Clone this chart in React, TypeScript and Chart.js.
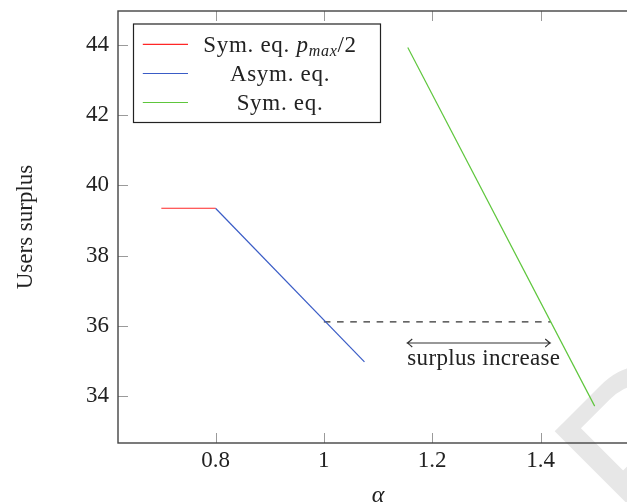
import React, { useEffect, useRef } from "react";
import { Chart, registerables } from "chart.js";

Chart.register(...registerables);

// ---- data ----
const X_TICKS = [0.8, 1, 1.2, 1.4];
const Y_TICKS = [34, 36, 38, 40, 42, 44];
const X_MIN = 0.62;
const X_MAX = 1.58;
const Y_MIN = 32.66;
const Y_MAX = 44.97;

const SYM_HALF_X = [0.7, 0.8];
const SYM_HALF_Y = [39.35, 39.35];
const ASYM_X = [0.8, 1.075];
const ASYM_Y = [39.35, 34.97];
const SYM_X = [1.155, 1.5];
const SYM_Y = [43.93, 33.71];

const DASH_X = [1.0, 1.419];
const DASH_Y = [36.11, 36.11];
const ARROW_X = [1.154, 1.418];
const ARROW_Y = 35.51;
const NOTE_TEXT = "surplus increase";
const NOTE_X = 1.154;
const NOTE_Y = 34.875;

const SERIES_LABELS = ["Sym. eq. p_max/2", "Asym. eq.", "Sym. eq."];
const SERIES_COLORS = ["#ff2626", "#3a5cc6", "#5ec63c"];
const X_TITLE = "α";
const Y_TITLE = "Users surplus";

const FONT = "'Liberation Serif', 'Times New Roman', serif";
const TEXT_COLOR = "#222";

const zip = (xs: number[], ys: number[]) => xs.map((x, i) => ({ x, y: ys[i] }));

function drawRichLabel(ctx: CanvasRenderingContext2D, label: string, cx: number, baseline: number) {
  const normal = `23px ${FONT}`;
  const ital = `italic 23px ${FONT}`;
  const sub = `italic 16px ${FONT}`;
  const parts: { text: string; font: string; dy: number }[] = [];
  const idx = label.indexOf("p_max");
  if (idx >= 0) {
    parts.push({ text: label.slice(0, idx), font: normal, dy: 0 });
    parts.push({ text: "p", font: ital, dy: 0 });
    parts.push({ text: "max", font: sub, dy: 4.5 });
    parts.push({ text: label.slice(idx + 5), font: normal, dy: 0 });
  } else {
    parts.push({ text: label, font: normal, dy: 0 });
  }
  (ctx as any).letterSpacing = "0.7px";
  let total = 0;
  for (const p of parts) {
    ctx.font = p.font;
    total += ctx.measureText(p.text).width;
  }
  let x = cx - total / 2;
  ctx.textAlign = "left";
  ctx.textBaseline = "alphabetic";
  for (const p of parts) {
    ctx.font = p.font;
    ctx.fillText(p.text, x, baseline + p.dy);
    x += ctx.measureText(p.text).width;
  }
  (ctx as any).letterSpacing = "0px";
}

const customPlugin = {
  id: "pgfLook",
  beforeDraw(chart: any) {
    const ctx: CanvasRenderingContext2D = chart.ctx;
    // faint watermark letter in the corner
    ctx.save();
    ctx.translate(649, 551);
    ctx.rotate(-Math.PI / 4);
    ctx.font = "220px 'Liberation Sans', sans-serif";
    ctx.fillStyle = "#e7e7e7";
    ctx.textBaseline = "alphabetic";
    ctx.fillText("P", 0, 0);
    ctx.restore();
  },
  afterDraw(chart: any) {
    const ctx: CanvasRenderingContext2D = chart.ctx;
    const { left, right, top, bottom } = chart.chartArea;
    const xs = chart.scales.x;
    const ys = chart.scales.y;

    ctx.save();
    // inward ticks
    ctx.strokeStyle = "#9a9a9a";
    ctx.lineWidth = 1;
    ctx.beginPath();
    for (const v of X_TICKS) {
      const px = Math.round(xs.getPixelForValue(v)) + 0.5;
      ctx.moveTo(px, bottom);
      ctx.lineTo(px, bottom - 10);
      ctx.moveTo(px, top);
      ctx.lineTo(px, top + 10);
    }
    for (const v of Y_TICKS) {
      const py = Math.round(ys.getPixelForValue(v)) + 0.5;
      ctx.moveTo(left, py);
      ctx.lineTo(left + 10, py);
      ctx.moveTo(right, py);
      ctx.lineTo(right - 10, py);
    }
    ctx.stroke();

    // frame
    ctx.strokeStyle = "#444";
    ctx.lineWidth = 1.4;
    ctx.strokeRect(left, top, right - left, bottom - top);

    // double arrow
    const ax0 = xs.getPixelForValue(ARROW_X[0]);
    const ax1 = xs.getPixelForValue(ARROW_X[1]);
    const ay = ys.getPixelForValue(ARROW_Y);
    ctx.strokeStyle = "#333";
    ctx.lineWidth = 1.1;
    ctx.beginPath();
    ctx.moveTo(ax0, ay);
    ctx.lineTo(ax1, ay);
    ctx.moveTo(ax0 + 5, ay - 4);
    ctx.quadraticCurveTo(ax0 + 1.5, ay - 0.8, ax0, ay);
    ctx.quadraticCurveTo(ax0 + 1.5, ay + 0.8, ax0 + 5, ay + 4);
    ctx.moveTo(ax1 - 5, ay - 4);
    ctx.quadraticCurveTo(ax1 - 1.5, ay - 0.8, ax1, ay);
    ctx.quadraticCurveTo(ax1 - 1.5, ay + 0.8, ax1 - 5, ay + 4);
    ctx.stroke();

    // note text
    ctx.fillStyle = TEXT_COLOR;
    ctx.font = `23px ${FONT}`;
    ctx.textAlign = "left";
    ctx.textBaseline = "alphabetic";
    (ctx as any).letterSpacing = "0.35px";
    ctx.fillText(NOTE_TEXT, xs.getPixelForValue(NOTE_X), ys.getPixelForValue(NOTE_Y));
    (ctx as any).letterSpacing = "0px";

    // legend
    const lx0 = 133.5, lx1 = 380.5, ly0 = 24, ly1 = 122.5;
    ctx.fillStyle = "#fff";
    ctx.fillRect(lx0, ly0, lx1 - lx0, ly1 - ly0);
    ctx.strokeStyle = "#222";
    ctx.lineWidth = 1.2;
    ctx.strokeRect(lx0, ly0, lx1 - lx0, ly1 - ly0);
    const rows = [44.3, 73.5, 102.5];
    chart.data.datasets.slice(0, 3).forEach((ds: any, i: number) => {
      const ry = rows[i];
      ctx.strokeStyle = ds.borderColor;
      ctx.lineWidth = 1.2;
      ctx.beginPath();
      ctx.moveTo(142.8, ry);
      ctx.lineTo(188, ry);
      ctx.stroke();
      ctx.fillStyle = TEXT_COLOR;
      drawRichLabel(ctx, ds.label, 280, ry + 7.3);
    });
    ctx.restore();
  },
};

export default function App() {
  const canvasRef = useRef<HTMLCanvasElement | null>(null);

  useEffect(() => {
    const canvas = canvasRef.current;
    if (!canvas) return;
    const lineDs = (label: string, xs: number[], ys: number[], color: string) => ({
      label,
      data: zip(xs, ys),
      borderColor: color,
      backgroundColor: color,
      borderWidth: 1.2,
      pointRadius: 0,
      fill: false,
      tension: 0,
    });
    const chart = new Chart(canvas, {
      type: "line",
      data: {
        datasets: [
          lineDs(SERIES_LABELS[0], SYM_HALF_X, SYM_HALF_Y, SERIES_COLORS[0]),
          lineDs(SERIES_LABELS[1], ASYM_X, ASYM_Y, SERIES_COLORS[1]),
          lineDs(SERIES_LABELS[2], SYM_X, SYM_Y, SERIES_COLORS[2]),
          {
            label: "threshold",
            data: zip(DASH_X, DASH_Y),
            borderColor: "#333",
            borderWidth: 1.2,
            borderDash: [6.6, 6.6],
            pointRadius: 0,
            fill: false,
          },
        ],
      },
      options: {
        responsive: false,
        animation: false,
        devicePixelRatio: 1,
        layout: { padding: { left: 0, top: 11, right: 22, bottom: 0 } },
        plugins: { legend: { display: false }, tooltip: { enabled: false } },
        scales: {
          x: {
            type: "linear",
            min: X_MIN,
            max: X_MAX,
            afterBuildTicks: (s: any) => {
              s.ticks = X_TICKS.map((v) => ({ value: v }));
            },
            afterFit: (s: any) => {
              s.height = 77;
              s.paddingLeft = 0;
              s.paddingRight = 0;
            },
            grid: { display: false, drawTicks: false },
            border: { display: false },
            ticks: {
              padding: 4,
              color: TEXT_COLOR,
              font: { family: FONT, size: 23 },
              callback: (v: any) => String(v),
            },
            title: {
              display: true,
              text: X_TITLE,
              color: TEXT_COLOR,
              font: { family: FONT, size: 24, style: "italic" },
              padding: { top: 0, bottom: 10 },
            },
          },
          y: {
            type: "linear",
            min: Y_MIN,
            max: Y_MAX,
            afterBuildTicks: (s: any) => {
              s.ticks = Y_TICKS.map((v) => ({ value: v }));
            },
            afterFit: (s: any) => {
              s.width = 118;
              s.paddingTop = 0;
              s.paddingBottom = 0;
            },
            grid: { display: false, drawTicks: false },
            border: { display: false },
            ticks: {
              padding: 9,
              color: TEXT_COLOR,
              font: { family: FONT, size: 23 },
              callback: (v: any) => String(v),
            },
            title: {
              display: true,
              text: Y_TITLE,
              color: TEXT_COLOR,
              font: { family: FONT, size: 23 },
              padding: { top: 12, bottom: 0 },
            },
          },
        },
      },
      plugins: [customPlugin],
    } as any);
    return () => chart.destroy();
  }, []);

  return (
    <div
      style={{
        position: "fixed",
        left: 0,
        top: 0,
        width: 627,
        height: 502,
        overflow: "hidden",
        background: "#fff",
      }}
    >
      <canvas ref={canvasRef} width={660} height={520} style={{ display: "block", width: 660, height: 520 }} />
    </div>
  );
}
